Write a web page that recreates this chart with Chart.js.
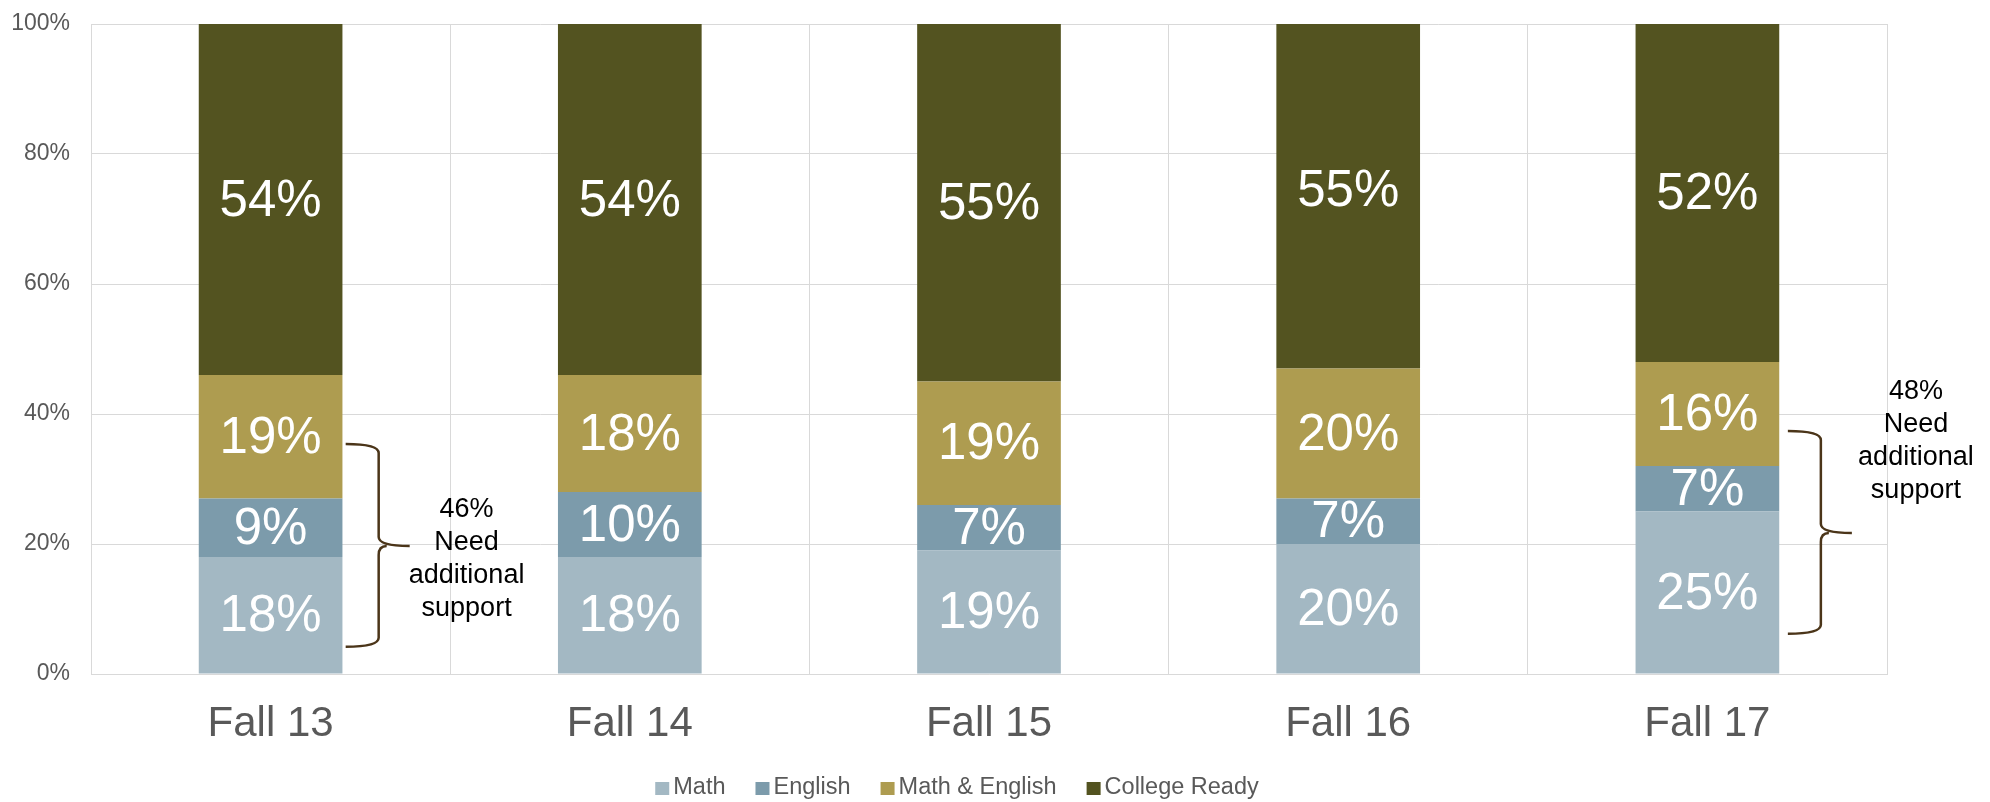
<!DOCTYPE html>
<html>
<head>
<meta charset="utf-8">
<script src="https://cdn.jsdelivr.net/npm/chart.js@4.4.1/dist/chart.umd.min.js"></script>
<style>
  html, body { margin: 0; padding: 0; background: #ffffff; }
  #wrap { width: 1990px; height: 802px; position: relative; }
</style>
</head>
<body>
<div id="wrap"><canvas id="c" width="1990" height="802"></canvas></div>
<script>
// ---- Data ----
const categories = ['Fall 13', 'Fall 14', 'Fall 15', 'Fall 16', 'Fall 17'];
const seriesNames = ['Math', 'English', 'Math & English', 'College Ready'];
const mathValues = [18, 18, 19, 20, 25];
const englishValues = [9, 10, 7, 7, 7];
const mathEnglishValues = [19, 18, 19, 20, 16];
const collegeReadyValues = [54, 54, 55, 55, 52];
const yTickValues = [0, 20, 40, 60, 80, 100];

// Annotations (brace ranges in data units, attached to a category)
const annotationCategories = [0, 4];
const annotationTexts = [
  ['46%', 'Need', 'additional', 'support'],
  ['48%', 'Need', 'additional', 'support']
];
const braceFrom = [4.2, 6.2];
const braceTo = [35.4, 37.4];
const braceTip = [19.7, 21.7];

// ---- Styles ----
const FONT = '"Liberation Sans", Arial, Helvetica, sans-serif';
const colors = ['#a3b8c3', '#7c9bab', '#ae9c50', '#535320'];
const gridColor = '#d9d9d9';
const textGray = '#595959';

const dataLabelPlugin = {
  id: 'dataLabels',
  afterDatasetsDraw(chart) {
    const ctx = chart.ctx;
    ctx.save();
    ctx.font = '51px ' + FONT;
    ctx.fillStyle = '#ffffff';
    ctx.textAlign = 'center';
    ctx.textBaseline = 'middle';
    chart.data.datasets.forEach((ds, di) => {
      const meta = chart.getDatasetMeta(di);
      meta.data.forEach((el, i) => {
        const c = el.getCenterPoint();
        ctx.fillText(ds.data[i] + '%', c.x, c.y + 2);
      });
    });
    ctx.restore();
  }
};

const bracePlugin = {
  id: 'braces',
  afterDraw(chart) {
    const ctx = chart.ctx;
    const xs = chart.scales.x, ys = chart.scales.y;
    const catW = (xs.right - xs.left) / categories.length;
    ctx.save();
    annotationCategories.forEach((ci, k) => {
      const cx = xs.getPixelForValue(ci);
      const x0 = cx + catW * (k === 0 ? 0.209 : 0.224);
      const xm = x0 + 33;
      const xt = x0 + 64;
      const yT = ys.getPixelForValue(braceTo[k]);
      const yB = ys.getPixelForValue(braceFrom[k]);
      const yM = ys.getPixelForValue(braceTip[k]);
      const r = 9;
      ctx.beginPath();
      ctx.strokeStyle = '#4b3519';
      ctx.lineWidth = 2.5;
      ctx.lineJoin = 'round';
      ctx.moveTo(x0, yT);
      ctx.quadraticCurveTo(xm, yT, xm, yT + r);
      ctx.lineTo(xm, yM - r);
      ctx.quadraticCurveTo(xm, yM, xt, yM);
      ctx.moveTo(xm + 8, yM);
      ctx.quadraticCurveTo(xm, yM, xm, yM + r);
      ctx.lineTo(xm, yB - r);
      ctx.quadraticCurveTo(xm, yB, x0, yB);
      ctx.stroke();

      // text
      ctx.font = '27px ' + FONT;
      ctx.fillStyle = '#000000';
      ctx.textAlign = 'center';
      ctx.textBaseline = 'middle';
      const tx = cx + (k === 0 ? 196 : 208.5);
      const lines = annotationTexts[k];
      const firstY = k === 0 ? ys.getPixelForValue(25.3) : ys.getPixelForValue(43.4);
      lines.forEach((t, li) => ctx.fillText(t, tx, firstY + li * 33));
    });
    ctx.restore();
  }
};

const legendPlugin = {
  id: 'customLegend',
  afterDraw(chart) {
    const ctx = chart.ctx;
    ctx.save();
    ctx.font = '23.5px ' + FONT;
    const box = 14, gapText = 4, gapItem = 30;
    const widths = seriesNames.map(n => ctx.measureText(n).width);
    let total = 0;
    widths.forEach(w => total += box + gapText + w);
    total += gapItem * (seriesNames.length - 1);
    const centerX = 957;
    const y = 788;
    let x = centerX - total / 2;
    ctx.textBaseline = 'middle';
    ctx.textAlign = 'left';
    seriesNames.forEach((n, i) => {
      ctx.fillStyle = colors[i];
      ctx.fillRect(x, y - 6, box, 13);
      ctx.fillStyle = textGray;
      ctx.fillText(n, x + box + gapText, y);
      x += box + gapText + widths[i] + gapItem;
    });
    ctx.restore();
  }
};

const seriesValues = [mathValues, englishValues, mathEnglishValues, collegeReadyValues];

new Chart(document.getElementById('c'), {
  type: 'bar',
  data: {
    labels: categories,
    datasets: seriesNames.map((name, i) => ({
      label: name,
      data: seriesValues[i],
      backgroundColor: colors[i],
      borderWidth: 0,
      categoryPercentage: 1.0,
      barPercentage: 0.4
    }))
  },
  options: {
    responsive: false,
    animation: false,
    devicePixelRatio: 1,
    layout: { padding: { top: 24, right: 103, bottom: 0, left: 0 } },
    plugins: {
      legend: { display: false },
      tooltip: { enabled: false }
    },
    scales: {
      x: {
        stacked: true,
        grid: { color: gridColor, lineWidth: 1, drawTicks: false, offset: true },
        border: { color: gridColor, width: 1 },
        ticks: {
          color: textGray,
          font: { family: FONT, size: 42 },
          padding: 25,
          maxRotation: 0
        },
        afterFit(scale) { scale.height = 128; scale.paddingLeft = 0; scale.paddingRight = 0; }
      },
      y: {
        stacked: true,
        min: 0,
        max: 100,
        grid: { color: gridColor, lineWidth: 1, drawTicks: false },
        border: { color: gridColor, width: 1 },
        afterBuildTicks(scale) { scale.ticks = yTickValues.map(v => ({ value: v })); },
        ticks: {
          color: textGray,
          font: { family: FONT, size: 23 },
          padding: 21,
          callback: v => v + '%'
        },
        afterFit(scale) { scale.width = 91; scale.paddingTop = 0; scale.paddingBottom = 0; }
      }
    }
  },
  plugins: [dataLabelPlugin, bracePlugin, legendPlugin]
});
</script>
</body>
</html>
